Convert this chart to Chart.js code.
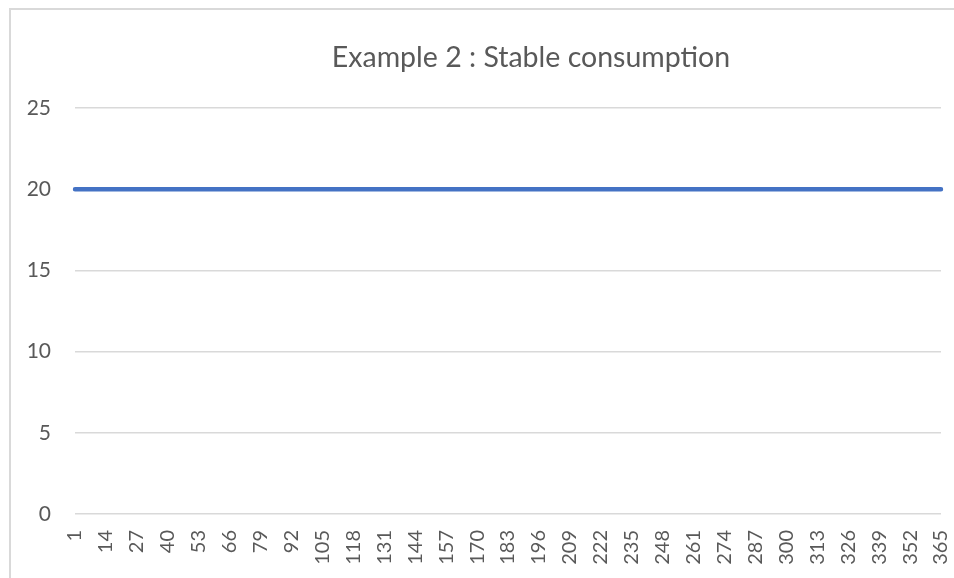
<!DOCTYPE html>
<html>
<head>
<meta charset="utf-8">
<script src="https://cdn.jsdelivr.net/npm/chart.js@4.4.1/dist/chart.umd.min.js"></script>
<style>
  html, body { margin: 0; padding: 0; background: #fff; }
  #wrap { position: relative; width: 954px; height: 578px; overflow: hidden; }
  #frame {
    position: absolute; left: 9px; top: 8px; width: 1000px; height: 700px;
    border: 2px solid #d9d9d9; box-sizing: border-box; pointer-events: none;
  }
</style>
</head>
<body>
<div id="wrap">
  <!-- chart is wider than the window, like the cropped original -->
  <canvas id="myLineChart" width="1062" height="578"></canvas>
  <div id="frame"></div>
</div>
<script>
// day numbers 1..365 (category axis)
const days = [];
for (let d = 1; d <= 365; d++) days.push(String(d));

// consumption per day: flat at 20 for the whole year
const consumption = new Array(365).fill(20);

const yTicks = [0, 5, 10, 15, 20, 25];
const labelStep = 13; // a label every 13 days: 1, 14, 27 ... 365

const textColor = "#595959";
const gridColor = "#d9d9d9";

new Chart(document.getElementById("myLineChart").getContext("2d"), {
  type: "line",
  data: {
    labels: days,
    datasets: [
      {
        label: "Consumption",
        data: consumption,
        borderColor: "#4472C4",
        backgroundColor: "#4472C4",
        borderWidth: 4.5,
        borderCapStyle: "round",
        pointRadius: 0,
        tension: 0,
      },
    ],
  },
  options: {
    responsive: false,
    animation: false,
    layout: { padding: 0 },
    plugins: {
      legend: { display: false },
      tooltip: { enabled: false },
      title: {
        display: true,
        text: "Example 2 : Stable consumption",
        color: textColor,
        font: { family: "Lato", size: 28.5, weight: "normal" },
        padding: { top: 41, bottom: 33 },
      },
    },
    scales: {
      x: {
        offset: false,
        grid: { display: false },
        border: { display: false },
        afterFit: (scale) => {
          scale.height = 64;
        },
        ticks: {
          autoSkip: false,
          minRotation: 90,
          maxRotation: 90,
          padding: 8,
          color: textColor,
          font: { family: "Lato", size: 20 },
          callback: function (value, index) {
            return index % labelStep === 0 ? days[index] : null;
          },
        },
      },
      y: {
        min: yTicks[0],
        max: yTicks[yTicks.length - 1],
        grid: { color: gridColor, lineWidth: 1.5, drawTicks: false },
        border: { display: false },
        afterFit: (scale) => {
          scale.width = 75;
        },
        ticks: {
          stepSize: 5,
          padding: 24,
          color: textColor,
          font: { family: "Lato", size: 21 },
        },
      },
      // empty right-hand strip: the chart runs on past the window edge
      spacer: {
        type: "linear",
        position: "right",
        grid: { display: false },
        border: { display: false },
        ticks: { display: false },
        afterFit: (scale) => {
          scale.width = 121;
        },
      },
    },
  },
});
</script>
</body>
</html>
